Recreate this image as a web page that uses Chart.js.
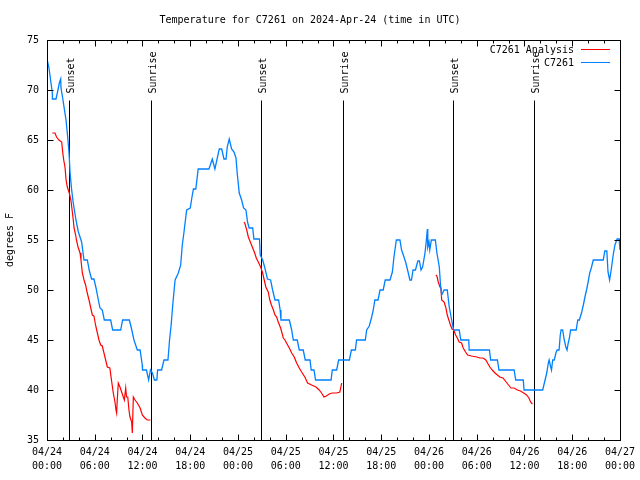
<!DOCTYPE html>
<html>
<head>
<meta charset="utf-8">
<script src="https://cdn.jsdelivr.net/npm/chart.js@4/dist/chart.umd.min.js"></script>
<style>
  body { margin: 0; background: #fff; }
  canvas { display: block; }
</style>
</head>
<body>
<canvas id="tempChart" width="640" height="480"></canvas>
<script>
// Chart data (hours since 04/24 00:00 UTC)
const FONT = 'DejaVu Sans Mono';

const xTickLabels = [
  ['04/24', '00:00'], ['04/24', '06:00'], ['04/24', '12:00'], ['04/24', '18:00'],
  ['04/25', '00:00'], ['04/25', '06:00'], ['04/25', '12:00'], ['04/25', '18:00'],
  ['04/26', '00:00'], ['04/26', '06:00'], ['04/26', '12:00'], ['04/26', '18:00'],
  ['04/27', '00:00']
];

const sunHours = [2.8, 13.07, 26.9, 37.23, 51.06, 61.24];
const sunLabels = ['Sunset', 'Sunrise', 'Sunset', 'Sunrise', 'Sunset', 'Sunrise'];

// Observed station temperature
const obsHours = [
  0, 0.25, 0.5, 0.67, 0.68, 1.13, 1.3, 1.55, 1.72, 1.76, 1.97, 2.14, 2.39, 2.6, 2.77, 2.9,
  3.1, 3.3, 3.64, 3.94, 4.23, 4.35, 4.65, 5.07, 5.3, 5.6, 5.9, 6.16, 6.45, 6.66, 6.95, 7.2,
  8.0, 8.25, 9.26, 9.5, 10.35, 10.6, 10.93, 11.35, 11.7, 11.97, 12.0, 12.5, 12.77, 13.0,
  13.25, 13.5, 13.8, 13.9, 14.4, 14.7, 15.2, 15.4, 15.6, 15.8, 16.0, 16.1, 16.5, 16.8,
  17.0, 17.2, 17.35, 17.55, 18.0, 18.2, 18.4, 18.7, 19.0, 20.35, 20.77, 21.1, 21.4, 21.65,
  21.95, 22.24, 22.5, 22.65, 22.9, 23.2, 23.5, 23.75, 23.9, 24.16, 24.46, 24.7, 25.0, 25.2,
  25.4, 25.85, 26.0, 26.7, 26.8, 27.1, 27.35, 27.7, 28.1, 28.35, 28.65, 29.1, 29.3, 29.4,
  30.45, 30.75, 30.95, 31.45, 31.7, 32.2, 32.45, 33.05, 33.2, 33.55, 33.75, 35.7, 35.85,
  36.4, 36.65, 38.0, 38.25, 38.75, 38.9, 40.0, 40.17, 40.5, 40.8, 41.0, 41.2, 41.6, 41.85,
  42.25, 42.5, 43.1, 43.4, 43.6, 43.9, 44.35, 44.56, 44.86, 45.1, 45.4, 45.6, 45.8, 46.0,
  46.3, 46.6, 46.8, 47.0, 47.2, 47.5, 47.65, 47.8, 47.85, 48.0, 48.1, 48.3, 48.8, 49.0,
  49.3, 49.45, 49.6, 49.9, 50.3, 50.55, 50.85, 51.1, 51.8, 52.0, 53.0, 53.05, 55.6, 55.75,
  56.6, 56.8, 58.7, 58.9, 59.85, 59.95, 62.3, 62.5, 62.8, 63.0, 63.1, 63.3, 63.4, 63.55,
  63.75, 63.95, 64.1, 64.35, 64.5, 64.6, 64.8, 65.0, 65.2, 65.35, 65.5, 65.65, 65.8, 66.5,
  66.7, 66.9, 67.2, 67.4, 67.6, 67.8, 68.0, 68.2, 68.4, 68.65, 69.9, 70.1, 70.35, 70.5,
  70.7, 70.9, 71.15, 71.37, 71.65, 71.9, 72.0
];
const obsTemps = [
  73.1, 72.2, 70.7, 69.7, 69.1, 69.1, 69.7, 70.7, 71.1, 70.2, 69.2, 68.3, 67, 65.3, 63.7, 61.7,
  60, 58.7, 57, 55.8, 55.1, 54.8, 53, 53, 52, 51.1, 51.1, 50.2, 49, 48.2, 48, 47,
  47, 46, 46, 47, 47, 46.2, 45, 44, 44, 42.5, 42, 42, 41, 42,
  41.7, 41, 41, 42, 42, 43, 43, 45, 46.5, 48.5, 50.2, 51, 51.7, 52.5,
  54.5, 55.7, 56.7, 58, 58.2, 59.2, 60.1, 60.1, 62.1, 62.1, 63.1, 62.1, 63.2, 64.1,
  64.1, 63.1, 63.1, 64.3, 65.1, 64.1, 63.8, 63.2, 61.7, 59.7, 59, 58.2, 58, 56.8,
  56.2, 56.2, 55.1, 55.1, 53.5, 53, 52.3, 51.1, 51, 50, 49, 49, 48, 47,
  47, 46, 45, 45, 44, 44, 43, 43, 42, 42, 41, 41, 42,
  42, 43, 43, 44, 44, 45, 45, 46, 46.4, 47.3, 48, 49, 49, 50,
  50, 51, 51, 51.8, 53.3, 55, 55, 54, 53.3, 52.7, 51.7, 51, 51, 52,
  52, 52.9, 52.9, 52, 52.3, 53.7, 54.8, 56.1, 54.3, 54.8, 54, 55, 55, 53.7,
  52.3, 50.5, 49.5, 50, 50, 48.3, 47, 46, 46, 45, 45, 44, 44, 43,
  43, 42, 42, 41, 41, 40, 40, 40.7, 41.7, 42.7, 43, 42.3, 42, 43,
  43, 43.7, 44, 44, 45.5, 46, 46, 45, 44.3, 44, 44.7, 45.2, 46, 46,
  47, 47, 47.8, 48.5, 49.3, 50, 50.8, 51.7, 52.2, 53, 53, 53.9, 53.9, 51.8,
  51, 52, 53.5, 54.5, 55.1, 55.1, 54
];

// Analysis temperature (null = no analysis, line breaks)
const anaHours = [
  0.67, 1.0, 1.2, 1.5, 1.85, 1.97, 2.1, 2.26, 2.4, 2.55, 2.8, 3.0, 3.2, 3.3, 3.4, 3.6, 3.7,
  3.9, 4.15, 4.27, 4.44, 4.65, 4.85, 5.06, 5.28, 5.5, 5.7, 5.9, 6.1, 6.33, 6.53, 6.75, 6.95,
  7.16, 7.37, 7.58, 7.9, 8.1, 8.33, 8.54, 8.67, 8.75, 8.83, 8.96, 9.17, 9.38, 9.59, 9.72,
  9.89, 10.0, 10.15, 10.3, 10.43, 10.64, 10.72, 10.85, 11.06, 11.35, 11.7, 11.98, 12.3,
  12.6, 13.0,
  18.0,
  24.75, 24.85, 25.1, 25.3, 25.6, 25.8, 26.1, 26.3, 26.55, 26.85, 27.1, 27.3, 27.5, 27.8,
  28.0, 28.2, 28.45, 28.65, 28.86, 29.06, 29.36, 29.7, 29.9, 30.1, 30.45, 30.75, 31.07,
  31.37, 31.7, 32.0, 32.4, 32.75, 33.25, 33.8, 34.2, 34.5, 34.8, 35.1, 35.47, 35.85, 36.4,
  36.8, 37.03,
  43.0,
  48.88, 49.0, 49.17, 49.38, 49.5, 49.6, 49.9, 50.1, 50.3, 50.5, 50.7, 50.9, 51.1, 51.35,
  51.56, 51.8, 52.1, 52.3, 52.6, 52.86, 53.36, 54.0, 54.4, 54.8, 55.15, 55.36, 55.65, 55.95,
  56.3, 56.6, 56.9, 57.3, 57.7, 58.0, 58.3, 58.7, 59.1, 59.5, 59.9, 60.27, 60.56, 60.77, 61.0
];
const anaTemps = [
  65.7, 65.7, 65.3, 65, 64.8, 63.8, 63, 62.3, 61, 60.3, 59.7, 59, 57.7, 57, 56.2, 55.5, 55,
  54.3, 53.7, 53, 51.7, 51, 50.5, 49.7, 49, 48.2, 47.5, 47.4, 46.5, 45.7, 45, 44.5, 44.4,
  43.7, 43, 42.3, 42.2, 41, 39.7, 38.8, 38, 37.7, 39, 40.7, 40.3, 39.8, 39.3, 39,
  40.2, 39.3, 39.3, 38, 37.3, 36.8, 35.7, 39.3, 39, 38.7, 38.2, 37.5, 37.2,
  37, 37,
  null,
  56.8, 56.7, 56, 55.3, 54.7, 54.3, 53.7, 53.2, 52.8, 52.3, 51.7, 51, 50.3, 49.8,
  49, 48.5, 48, 47.5, 47.3, 46.8, 46.2, 45.2, 45, 44.7, 44.2, 43.7, 43.3,
  42.7, 42.2, 41.8, 41.3, 40.7, 40.5, 40.3, 40, 39.7, 39.3, 39.4, 39.6, 39.7, 39.7,
  39.8, 40.7,
  null,
  51.5, 51.4, 50.8, 50.3, 50.2, 49, 48.8, 48.3, 47.5, 47, 46.5, 46.1, 46, 45.5,
  45.2, 44.8, 44.7, 44.2, 43.8, 43.5, 43.4, 43.3, 43.2, 43.2, 43, 42.7, 42.3, 42,
  41.7, 41.5, 41.3, 41.2, 40.8, 40.5, 40.2, 40.2, 40, 39.9, 39.7, 39.5, 39.2, 38.8, 38.6
];

function toPoints(hours, temps) {
  return hours.map((h, i) => ({ x: h, y: temps[i] }));
}

// Box, inward tics, sunrise/sunset lines and key, gnuplot style
const gnuplotDecor = {
  id: 'gnuplotDecor',
  beforeDatasetsDraw(chart) {
    const { ctx, chartArea: a, scales: { x, y } } = chart;
    ctx.save();
    ctx.strokeStyle = '#000';
    ctx.lineWidth = 1;
    ctx.font = `10px ${FONT}`;
    ctx.fillStyle = '#000';
    const top = Math.round(y.getPixelForValue(69)) + 0.5;
    sunHours.forEach((h, i) => {
      const px = Math.round(x.getPixelForValue(h)) + 0.5;
      ctx.beginPath();
      ctx.moveTo(px, top);
      ctx.lineTo(px, a.bottom);
      ctx.stroke();
      ctx.save();
      ctx.translate(px + 2, top - 7);
      ctx.rotate(-Math.PI / 2);
      ctx.textAlign = 'left';
      ctx.textBaseline = 'middle';
      ctx.fillText(sunLabels[i], 0, 0);
      ctx.restore();
    });
    ctx.restore();
  },
  afterDraw(chart) {
    const { ctx, chartArea: a, scales: { x, y } } = chart;
    ctx.save();
    ctx.strokeStyle = '#000';
    ctx.lineWidth = 1;
    const L = Math.round(a.left) + 0.5, R = Math.round(a.right) + 0.5;
    const T = Math.round(a.top) + 0.5, B = Math.round(a.bottom) + 0.5;
    ctx.strokeRect(L, T, R - L, B - T);

    ctx.beginPath();
    for (let h = 0; h <= 72; h += 2) {
      const px = Math.round(x.getPixelForValue(h)) + 0.5;
      const len = h % 6 === 0 ? 6 : 3;
      ctx.moveTo(px, B); ctx.lineTo(px, B - len);
      ctx.moveTo(px, T); ctx.lineTo(px, T + len);
    }
    for (let v = 35; v <= 75; v += 5) {
      const py = Math.round(y.getPixelForValue(v)) + 0.5;
      ctx.moveTo(L, py); ctx.lineTo(L + 6, py);
      ctx.moveTo(R, py); ctx.lineTo(R - 6, py);
    }
    ctx.stroke();

    // key
    ctx.font = `10px ${FONT}`;
    ctx.fillStyle = '#000';
    ctx.textAlign = 'right';
    ctx.textBaseline = 'middle';
    const keyOrder = [1, 0];
    keyOrder.forEach((di, row) => {
      const ds = chart.data.datasets[di];
      const ky = 50 + row * 13;
      ctx.fillText(ds.label, 574, ky);
      ctx.strokeStyle = ds.borderColor;
      ctx.lineWidth = 1;
      ctx.beginPath();
      ctx.moveTo(581, Math.round(ky) - 0.5);
      ctx.lineTo(610, Math.round(ky) - 0.5);
      ctx.stroke();
    });
    ctx.restore();
  }
};

new Chart(document.getElementById('tempChart'), {
  type: 'line',
  data: {
    datasets: [
      {
        label: 'C7261',
        data: toPoints(obsHours, obsTemps),
        borderColor: '#0080ff',
        borderWidth: 1.3,
        pointRadius: 0,
        tension: 0
      },
      {
        label: 'C7261 Analysis',
        data: toPoints(anaHours, anaTemps),
        borderColor: '#ff0000',
        borderWidth: 1.2,
        pointRadius: 0,
        tension: 0,
        spanGaps: false
      }
    ]
  },
  options: {
    responsive: false,
    animation: false,
    layout: { padding: { left: 0, right: 20, top: 0, bottom: 0 } },
    plugins: {
      legend: { display: false },
      tooltip: { enabled: false },
      title: {
        display: true,
        text: 'Temperature for C7261 on 2024-Apr-24 (time in UTC)',
        color: '#000',
        font: { family: FONT, size: 10, weight: 'normal' },
        padding: { top: 14, bottom: 14 }
      }
    },
    scales: {
      x: {
        type: 'linear',
        min: 0,
        max: 72,
        grid: { display: false, drawTicks: false },
        border: { display: false },
        afterFit: (s) => { s.height = 40; },
        ticks: {
          stepSize: 6,
          autoSkip: false,
          maxRotation: 0,
          padding: 5,
          color: '#000',
          font: { family: FONT, size: 10, lineHeight: 1.45 },
          callback: (v, i) => xTickLabels[i]
        }
      },
      y: {
        min: 35,
        max: 75,
        grid: { display: false, drawTicks: false },
        border: { display: false },
        afterFit: (s) => { s.width = 47; },
        title: {
          display: true,
          text: 'degrees F',
          color: '#000',
          font: { family: FONT, size: 10 },
          padding: { top: 4, bottom: 0 }
        },
        ticks: {
          stepSize: 5,
          padding: 8,
          color: '#000',
          font: { family: FONT, size: 10 }
        }
      }
    }
  },
  plugins: [gnuplotDecor]
});
</script>
</body>
</html>
